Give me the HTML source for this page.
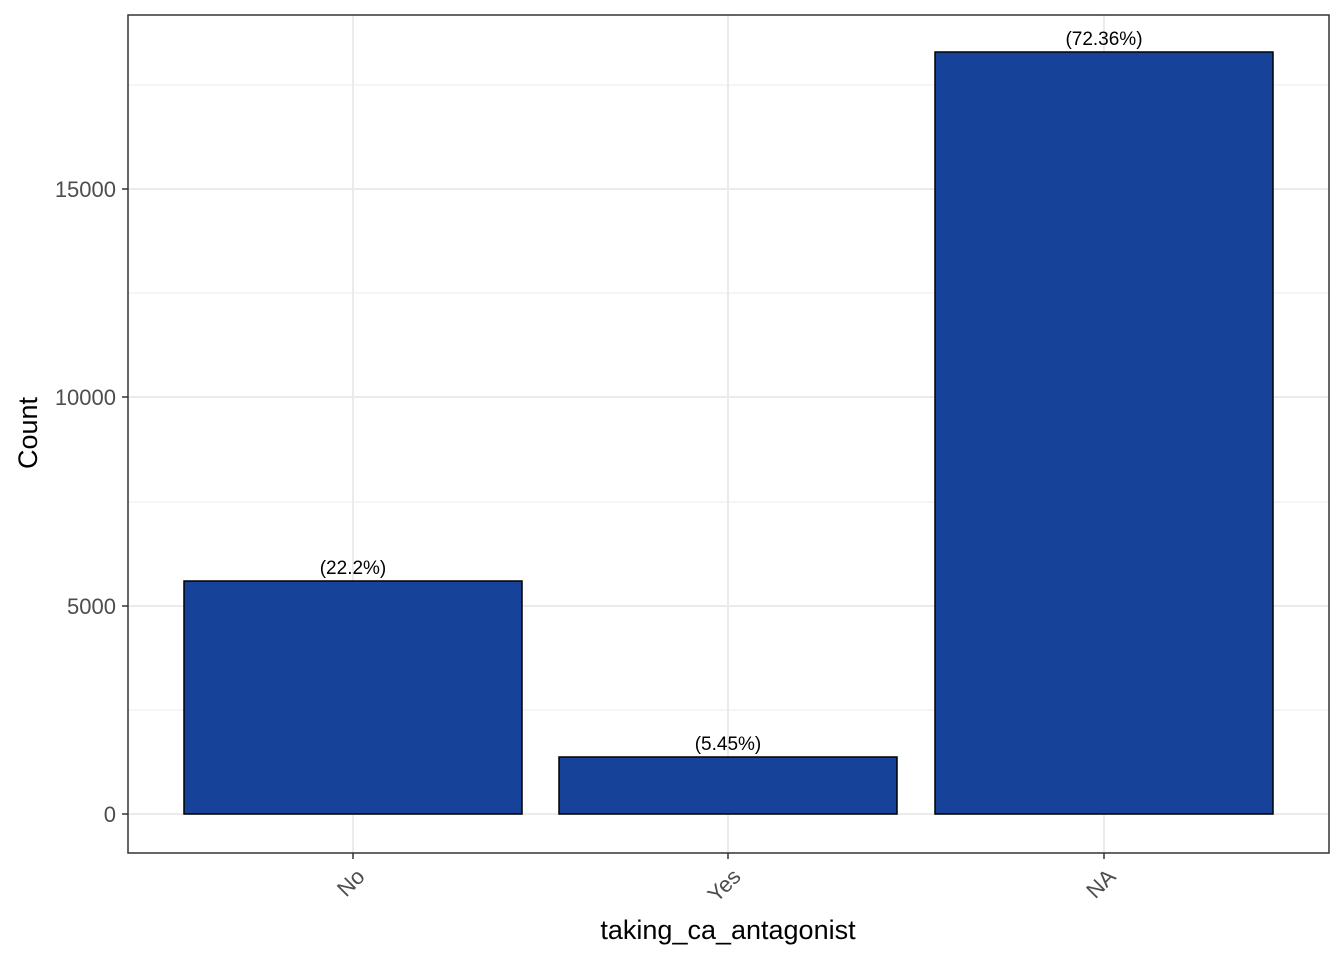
<!DOCTYPE html>
<html><head><meta charset="utf-8"><style>body{margin:0;background:#fff}</style></head><body>
<svg width="1344" height="960" xmlns="http://www.w3.org/2000/svg" font-family="Liberation Sans, sans-serif">
<rect width="1344" height="960" fill="#fff"/>
<g stroke="#ebebeb" stroke-width="1">
<line x1="128" x2="1329" y1="710" y2="710"/><line x1="128" x2="1329" y1="502" y2="502"/>
<line x1="128" x2="1329" y1="293" y2="293"/><line x1="128" x2="1329" y1="85" y2="85"/>
</g>
<g stroke="#ebebeb" stroke-width="2">
<line x1="128" x2="1329" y1="814" y2="814"/><line x1="128" x2="1329" y1="606" y2="606"/>
<line x1="128" x2="1329" y1="397" y2="397"/><line x1="128" x2="1329" y1="189" y2="189"/>
<line x1="353" x2="353" y1="15" y2="853"/><line x1="728" x2="728" y1="15" y2="853"/><line x1="1104" x2="1104" y1="15" y2="853"/>
</g>
<g fill="#17429a" stroke="#000" stroke-width="1.5">
<rect x="184" y="581" width="338" height="233"/>
<rect x="559" y="757" width="338" height="57"/>
<rect x="935" y="52" width="338" height="762"/>
</g>
<g font-size="19" text-anchor="middle" fill="#000">
<text x="353" y="574">(22.2%)</text>
<text x="728" y="750">(5.45%)</text>
<text x="1104" y="45">(72.36%)</text>
</g>
<rect x="128" y="15" width="1201" height="838" fill="none" stroke="#333" stroke-width="1.5"/>
<g stroke="#333" stroke-width="1.5">
<line x1="122" x2="128" y1="814" y2="814"/><line x1="122" x2="128" y1="606" y2="606"/>
<line x1="122" x2="128" y1="397" y2="397"/><line x1="122" x2="128" y1="189" y2="189"/>
<line x1="353" x2="353" y1="853" y2="859"/><line x1="728" x2="728" y1="853" y2="859"/><line x1="1104" x2="1104" y1="853" y2="859"/>
</g>
<g font-size="22" fill="#4d4d4d" text-anchor="end">
<text x="116" y="822">0</text><text x="116" y="614">5000</text>
<text x="116" y="405">10000</text><text x="116" y="197">15000</text>
</g>
<g font-size="22" fill="#4d4d4d" text-anchor="end">
<text transform="translate(366,878) rotate(-45)">No</text>
<text transform="translate(742,878) rotate(-45)">Yes</text>
<text transform="translate(1117,878) rotate(-45)">NA</text>
</g>
<text x="728" y="939" font-size="27" text-anchor="middle">taking_ca_antagonist</text>
<text transform="translate(37,433) rotate(-90)" font-size="27" text-anchor="middle">Count</text>
</svg>
</body></html>
